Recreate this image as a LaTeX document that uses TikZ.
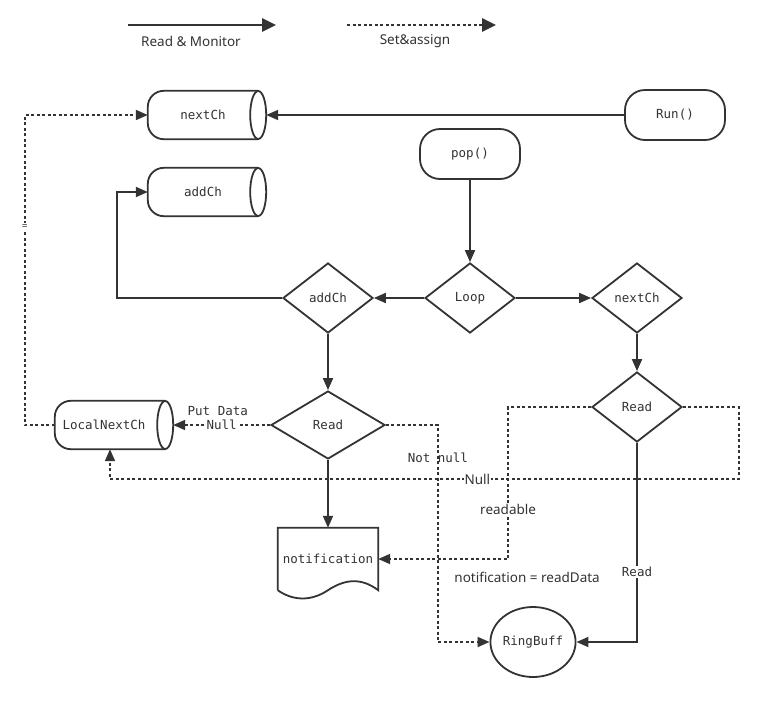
\documentclass[tikz,border=0pt]{standalone}
\usepackage{fontspec}
\setmainfont{Noto Sans}
\newfontfamily\monof{DejaVu Sans Mono}
\usetikzlibrary{arrows.meta,shapes.geometric,calc}
\definecolor{ln}{HTML}{333333}
\newcommand\drawcyl[1]{%
  \draw[ln,line width=1.8pt,rounded corners=16pt] (#1.north east) -- (#1.north west) -- (#1.south west) -- (#1.south east);
  \draw[ln,line width=1.8pt,fill=white] (#1.east) ellipse [x radius=8pt,y radius=24pt];
}
\begin{document}
\begin{tikzpicture}[x=1pt,y=-1pt,
  every node/.style={text=ln},
  mono/.style={font=\monof\fontsize{12.5}{15}\selectfont},
  sans/.style={font=\fontsize{13.5}{16}\selectfont},
  lnk/.style={draw=ln,line width=1.8pt,-{Triangle[length=12pt,width=10pt]}},
  dot/.style={lnk,dash pattern=on 3pt off 2.5pt},
  leg/.style={draw=ln,line width=2.6pt,-{Triangle[length=14pt,width=13pt]}},
  box/.style={draw=ln,line width=1.8pt,fill=white,mono,inner sep=0pt},
  dia/.style={box,diamond,aspect=1.29,minimum width=90pt,minimum height=70pt},
  term/.style={box,rounded corners=20pt,minimum width=100pt,minimum height=50pt},
  cylbody/.style={mono,inner sep=0pt,minimum width=110pt,minimum height=48pt},
  lab/.style={fill=white,inner sep=1pt},
]
\path[use as bounding box,fill=white] (0,0) rectangle (764,702);

% legend
\coordinate (la1) at (128,25);
\coordinate (la2) at (276,25);
\coordinate (lb1) at (347,25);
\coordinate (lb2) at (496,25);
\draw[leg] (la1) -- (la2);
\draw[leg,dash pattern=on 3pt off 2.5pt] (lb1) -- (lb2);
\node[sans] (legA) at (191,41) {Read \& Monitor};
\node[sans] (legB) at (415,41) {Set\&assign};

% cylinders
\node[cylbody] (nextCh) at (203,115) {nextCh};
\drawcyl{nextCh}
\node[cylbody] (addCh) at (203,192) {addCh};
\drawcyl{addCh}
\node[cylbody] (local) at (110,425) {\hspace*{-12pt}LocalNextCh};
\drawcyl{local}

% terminals
\node[term] (run) at (675,115) {Run()};
\node[term] (pop) at (470,154) {pop()};

% diamonds
\node[dia] (addD) at (328,298) {addCh};
\node[dia] (loop) at (470,298) {Loop};
\node[dia] (nextD) at (637,298) {nextCh};
\node[dia,aspect=1.68,minimum width=114pt,minimum height=68pt] (readL) at (328,425) {Read};
\node[dia] (readR) at (637,407) {Read};

% document
\node[mono,inner sep=0pt,minimum width=100pt,minimum height=62pt] (notif) at (328,559) {notification};
\draw[ln,line width=1.8pt] (notif.south west) -- (notif.north west) -- (notif.north east) -- (notif.south east)
  .. controls ($(notif.south east)+(-16,-12)$) and ($(notif.south east)+(-32,-12)$) .. (notif.south)
  .. controls ($(notif.south)+(-18,12)$) and ($(notif.south west)+(14,10)$) .. (notif.south west);

% ring buffer
\node[box,ellipse,minimum width=85pt,minimum height=70pt] (ring) at (533,642) {RingBuff};

% solid connectors
\draw[lnk] (run.west) -- ([xshift=8pt]nextCh.east);
\draw[lnk] (pop) -- (loop);
\draw[lnk] (loop) -- (addD);
\draw[lnk] (loop) -- (nextD);
\draw[lnk] (addD.west) -| ([xshift=-31pt]addCh.west) -- (addCh.west);
\draw[lnk] (addD) -- (readL);
\draw[lnk] (readL) -- (notif);
\draw[lnk] (nextD) -- (readR);
\draw[lnk] (readR.south) |- node[pos=0.324,lab,mono] {Read} (ring.east);

% dotted connectors
\draw[dot] (readL.west) -- node[pos=0.5,lab,mono] {Null}
  node[pos=0.54,mono,yshift=14pt] {Put Data} ([xshift=8pt]local.east);
\draw[dot] (local.west) -- ++(-30,0) |- node[pos=0.32,lab,font=\fontsize{10}{12}\selectfont] {=} (nextCh.west);
\draw[dot] (readL.east) -- ++(52,0) |- node[pos=0.076,mono] {Not null} (ring.west);
\draw[dot] (readR.east) -- ++(56,0) -- ++(0,72) -| node[pos=0.208,lab,sans] {Null} (local.south);
\draw[dot] (readR.west) -- ++(-83,0) |- node[pos=0.336,lab,sans] {readable}
  node[pos=0.5,sans,xshift=19pt,yshift=-18pt] {notification = readData} (notif.east);
\end{tikzpicture}
\end{document}
